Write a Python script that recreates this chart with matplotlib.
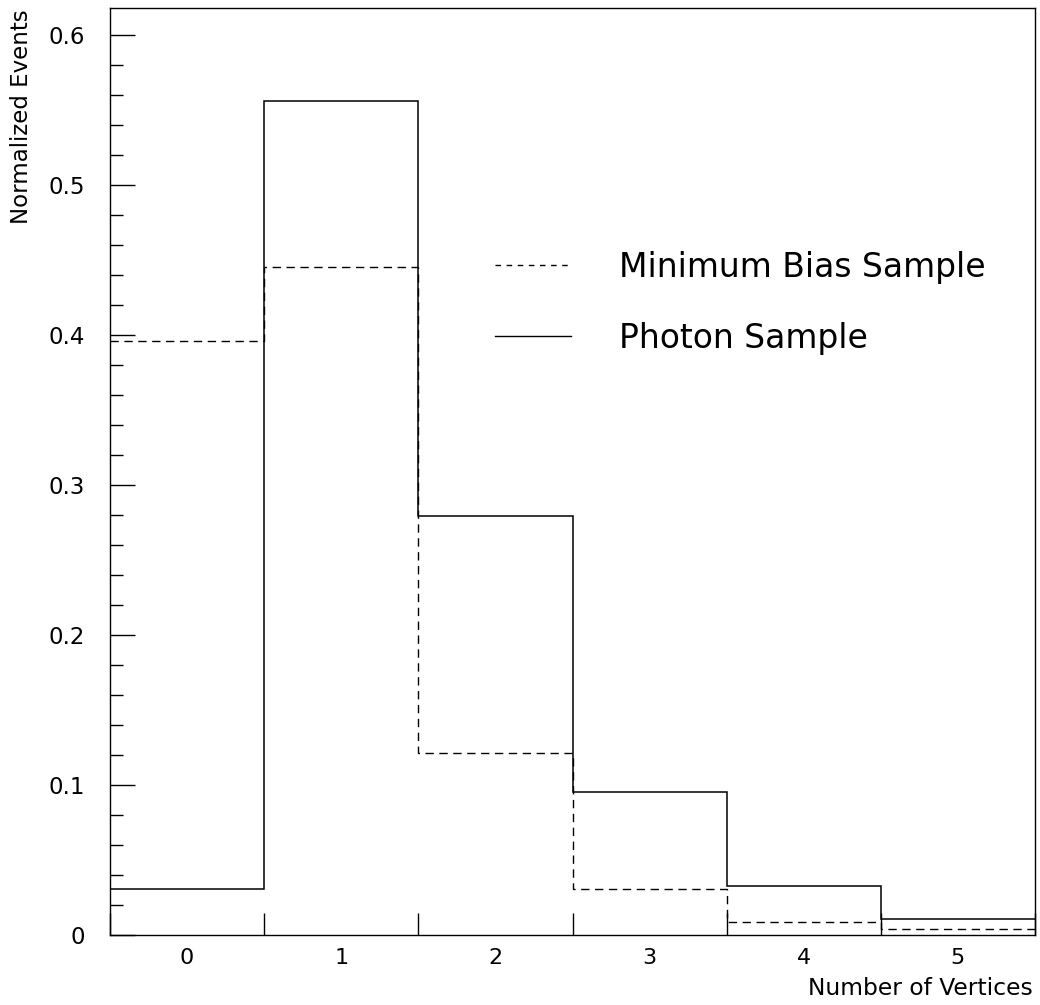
import numpy as np
import matplotlib
matplotlib.use("Agg")
import matplotlib.pyplot as plt
from matplotlib.ticker import MultipleLocator, FixedLocator
from matplotlib.lines import Line2D

vertices = [0, 1, 2, 3, 4, 5]
photon = [0.0307, 0.556, 0.279, 0.0953, 0.0325, 0.0105]
minbias = [0.396, 0.445, 0.1213, 0.0305, 0.0085, 0.0038]
labels = ["Minimum Bias Sample", "Photon Sample"]

plt.rcParams['font.family'] = ['DejaVu Sans']

fig = plt.figure(figsize=(10.4, 10.05), dpi=100)
ax = fig.add_axes([110/1040, 70/1005, 925/1040, 927/1005])

edges = np.arange(len(vertices) + 1) - 0.5
ax.stairs(minbias, edges, color='black', lw=1.0, linestyle=(0, (6, 4)), baseline=None)
ax.stairs(photon, edges, color='black', lw=1.1, baseline=None)

ax.set_xlim(edges[0], edges[-1])
ax.set_ylim(0, 0.618)

ax.xaxis.set_major_locator(FixedLocator(vertices))
ax.xaxis.set_minor_locator(FixedLocator(edges))
ax.tick_params(axis='x', which='major', length=0, pad=9, labelsize=16)
ax.tick_params(axis='x', which='minor', direction='in', length=16, width=1.0)
ax.yaxis.set_major_locator(MultipleLocator(0.1))
ax.yaxis.set_minor_locator(MultipleLocator(0.02))
ax.tick_params(axis='y', which='major', direction='in', length=18, width=1.0, labelsize=16.5, pad=18)
ax.tick_params(axis='y', which='minor', direction='in', length=9, width=1.0)
ax.set_yticklabels(["0" if v == 0 else f"{v:.1f}" for v in ax.get_yticks()])
for s in ax.spines.values():
    s.set_linewidth(1.0)

fig.text(1033/1040, 1 - 988/1005, "Number of Vertices", ha='right', va='center', fontsize=16.8)
fig.text(22/1040, 1 - 117/1005, "Normalized Events", ha='center', va='center', rotation=90, fontsize=16.5)

handles = [Line2D([], [], color='black', lw=1.0, linestyle=(0, (4, 4))),
           Line2D([], [], color='black', lw=1.0)]
ax.legend(handles, labels, loc='upper left', bbox_to_anchor=(385/925, 1 - 243/927),
          frameon=False, fontsize=23.8, handlelength=2.3, handletextpad=1.45,
          labelspacing=1.15, borderpad=0, borderaxespad=0)

fig.savefig("out.png", dpi=100)
